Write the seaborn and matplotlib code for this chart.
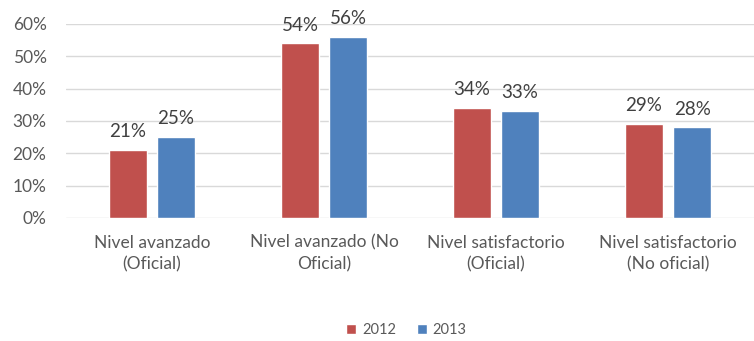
import matplotlib
matplotlib.use("Agg")
import matplotlib.pyplot as plt
import pandas as pd
import seaborn as sns
from matplotlib.ticker import PercentFormatter

categories = [
    "Nivel avanzado\n(Oficial)",
    "Nivel avanzado (No\nOficial)",
    "Nivel satisfactorio\n(Oficial)",
    "Nivel satisfactorio\n(No oficial)",
]
years = ["2012", "2013"]
values_2012 = [21, 54, 34, 29]
values_2013 = [25, 56, 33, 28]
y_ticks = [0, 10, 20, 30, 40, 50, 60]

df = pd.DataFrame({
    "categoria": categories * 2,
    "año": [years[0]] * 4 + [years[1]] * 4,
    "valor": values_2012 + values_2013,
})

sns.set_theme(style="white")
plt.rcParams["font.family"] = ["Lato", "DejaVu Sans"]
text_color = "#595959"
grid_color = "#D9D9D9"

fig = plt.figure(figsize=(7.54, 3.41), dpi=100)
ax = fig.add_axes([0.0875, 0.361, 0.9125, 0.569])

sns.barplot(
    data=df, x="categoria", y="valor", hue="año",
    palette={"2012": "#C0504D", "2013": "#4F81BD"},
    saturation=1, width=0.56, gap=0.2, ax=ax, legend=True,
)

for container in ax.containers:
    ax.bar_label(container, fmt="%d%%", padding=7, fontsize=13.5, color="#404040")

ax.set_ylim(0, 60)
ax.set_xlim(-0.5, 3.5)
ax.set_yticks(y_ticks)
ax.yaxis.set_major_formatter(PercentFormatter(decimals=0))
ax.grid(axis="y", color=grid_color, linewidth=1)
ax.set_axisbelow(True)
for side in ["top", "right", "left", "bottom"]:
    ax.spines[side].set_visible(False)
ax.tick_params(axis="both", length=0, colors=text_color)
ax.tick_params(axis="x", pad=12, labelsize=12.5)
ax.tick_params(axis="y", pad=14, labelsize=12.5)
for lbl in ax.get_xticklabels():
    lbl.set_linespacing(1.45)
ax.set_xlabel("")
ax.set_ylabel("")

handles, labels = ax.get_legend_handles_labels()
ax.legend_.remove()
fig.legend(handles, labels, loc="center", bbox_to_anchor=(0.539, 0.032),
           ncol=2, frameon=False, fontsize=10.5, handlelength=0.7,
           handleheight=0.7, handletextpad=0.4, columnspacing=1.4,
           labelcolor=text_color)

fig.savefig("out.png", dpi=100)
